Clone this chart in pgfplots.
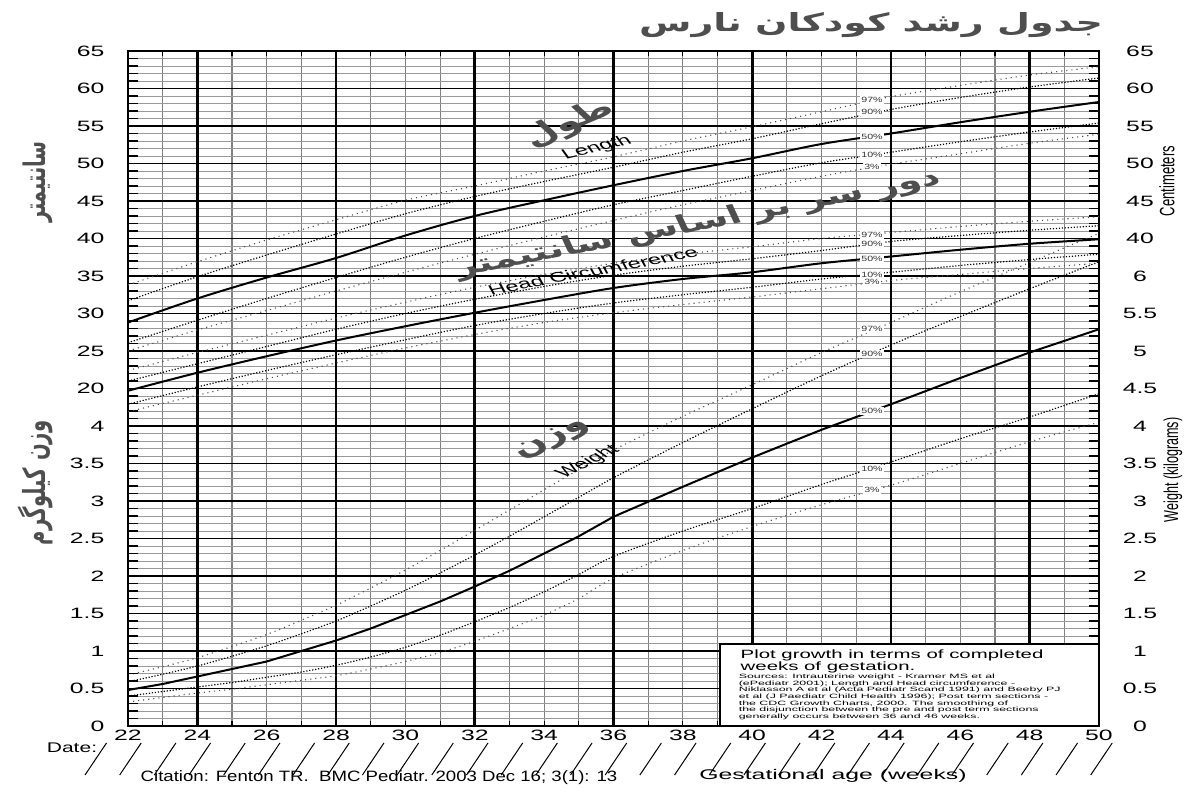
\documentclass[border=0pt]{standalone}
\usepackage{fontspec}
\setmainfont{Liberation Sans}
\newfontfamily\fa[Script=Arabic]{DejaVu Sans}
\TeXXeTstate=1
\usepackage{pgfplots}
\pgfplotsset{compat=1.18}
\usepackage{pgfplotstable}
\definecolor{pgray}{RGB}{78,78,78}

\pgfplotstableread{
w L3 L10 L50 L90 L97
22 25.0 26.1 28.8 31.7 33.8
24 27.8 29.1 32.0 34.9 36.9
26 30.4 32.0 34.8 37.8 39.8
28 33.0 34.8 37.4 40.6 42.5
30 35.5 37.5 40.4 43.3 45.1
32 37.9 40.0 43.0 45.6 47.0
34 40.2 42.3 45.1 47.6 49.0
36 42.4 44.5 47.1 49.5 50.9
38 44.5 46.4 49.0 51.5 53.0
40 46.4 48.3 50.7 53.3 54.9
42 48.3 50.1 52.6 55.3 56.9
44 49.9 51.5 54.0 57.2 58.9
46 51.3 52.9 55.5 58.8 60.4
48 52.7 54.2 56.9 60.2 61.8
50 53.9 55.4 58.2 61.4 62.9
}\lentab

\pgfplotstableread{
w H3 H10 H50 H90 H97
22 16.9 17.9 19.7 21.0 22.4
24 19.1 20.2 22.1 23.3 24.8
26 21.3 22.4 24.3 25.6 27.1
28 23.4 24.5 26.4 27.9 29.4
30 25.4 26.5 28.3 30.0 31.5
32 27.2 28.4 30.1 31.9 33.5
34 28.8 30.0 31.8 33.6 35.2
36 30.1 31.4 33.4 35.1 36.7
38 31.2 32.5 34.6 36.3 37.9
40 32.2 33.5 35.5 37.3 38.9
42 33.3 34.6 36.7 38.4 40.0
44 34.4 35.5 37.6 39.6 40.8
46 35.2 36.4 38.5 40.4 41.6
48 36.0 37.2 39.3 41.1 42.3
50 36.7 37.9 39.9 41.7 42.9
}\hctab

\pgfplotstableread{
w W3 W10 W50 W90 W97
22 0.32 0.40 0.48 0.59 0.68
23 0.38 0.46 0.56 0.69 0.79
24 0.44 0.52 0.66 0.80 0.91
25 0.49 0.58 0.76 0.93 1.06
26 0.55 0.65 0.86 1.07 1.22
27 0.61 0.72 1.00 1.23 1.41
28 0.67 0.81 1.14 1.40 1.61
29 0.76 0.92 1.30 1.60 1.84
30 0.86 1.05 1.48 1.81 2.08
31 0.98 1.21 1.66 2.04 2.34
32 1.13 1.39 1.86 2.28 2.61
33 1.30 1.58 2.07 2.53 2.88
34 1.48 1.79 2.30 2.79 3.15
35 1.70 2.02 2.53 3.05 3.42
36 1.97 2.26 2.79 3.31 3.68
38 2.34 2.60 3.19 3.78 4.13
40 2.66 2.90 3.58 4.23 4.55
42 2.95 3.22 3.95 4.67 4.98
44 3.21 3.52 4.29 5.08 5.38
46 3.50 3.83 4.64 5.46 5.79
48 3.79 4.12 4.98 5.83 6.18
50 4.05 4.43 5.29 6.19 6.57
}\wtab

\pgfplotsset{
  base/.style={
    at={(0,0)}, anchor=south west, scale only axis,
    width=485.5pt, height=337.5pt,
    xmin=22, xmax=50,
  },
  pthin/.style={black!70, line width=0.55pt, dash pattern=on 0.55pt off 2pt, smooth},
  pdense/.style={black, line width=0.6pt, dash pattern=on 0.6pt off 0.9pt, smooth},
  pmid/.style={black, line width=1pt},
}

\begin{document}
\begin{tikzpicture}
\path[use as bounding box] (-64pt,-37pt) rectangle (536pt,363pt);

% ---------- axis A: grid, x ticks, left labels, weight curves ----------
\begin{axis}[base,
  ymin=0, ymax=9,
  xtick={22,24,...,50},
  xticklabels={22,24,26,28,30,32,34,36,38,40,42,44,46,48,50},
  minor x tick num=1,
  ytick={0,0.5,1,1.5,2,2.5,3,3.5,4,4.5,5,5.5,6,6.5,7,7.5,8,8.5,9},
  yticklabels={0,0.5,1,1.5,2,2.5,3,3.5,4,20,25,30,35,40,45,50,55,60,65},
  minor y tick num=4,
  grid=both,
  major x grid style={black!50, line width=0.6pt},
  minor x grid style={black!50, line width=0.6pt},
  major y grid style={black, line width=0.7pt},
  minor y grid style={black!40, line width=0.45pt},
  extra x ticks={24,28,32,36,40,44,48},
  extra x tick labels={},
  extra x tick style={grid=major, major x grid style={black, line width=1.3pt}, major grid style={black, line width=1.3pt}},
  axis line style={black, line width=1pt},
  tick style={black, line width=0.6pt},
  major tick length=2.5pt, minor tick length=2.5pt,
  xticklabel style={font=\fontsize{7.5}{9}\selectfont, anchor=center, inner sep=0pt, yshift=-4.6pt, xscale=1.65},
  yticklabel style={font=\fontsize{7.5}{9}\selectfont, anchor=east, inner sep=0pt, xshift=-11.5pt, xscale=1.65},
]
\addplot[pthin] table[x=w, y=W97] {\wtab};
\addplot[pdense] table[x=w, y=W90] {\wtab};
\addplot[pmid] table[x=w, y=W50] {\wtab};
\addplot[pdense] table[x=w, y=W10] {\wtab};
\addplot[pthin] table[x=w, y=W3] {\wtab};
\end{axis}

% ---------- axis B: y ticks and right labels ----------
\begin{axis}[base,
  ymin=0, ymax=9,
  hide x axis,
  ytick={0,0.5,1,1.5,2,2.5,3,3.5,4,4.5,5,5.5,6,6.5,7,7.5,8,8.5,9},
  yticklabels={0,0.5,1,1.5,2,2.5,3,3.5,4,4.5,5,5.5,6,40,45,50,55,60,65},
  minor y tick num=4,
  yticklabel pos=right,
  ytick pos=both,
  axis line style={black, line width=1pt},
  tick style={black, line width=0.6pt},
  major tick length=5pt, minor tick length=5pt,
  yticklabel style={font=\fontsize{7.5}{9}\selectfont, anchor=center, inner sep=0pt, xshift=20.5pt, xscale=1.65},
]
\end{axis}

% ---------- axis C: length and head circumference (cm) ----------
\begin{axis}[base,
  ymin=-25, ymax=65,
  hide axis,
]
\addplot[pthin] table[x=w, y=L97] {\lentab};
\addplot[pdense] table[x=w, y=L90] {\lentab};
\addplot[pmid, smooth] table[x=w, y=L50] {\lentab};
\addplot[pdense] table[x=w, y=L10] {\lentab};
\addplot[pthin] table[x=w, y=L3] {\lentab};
\addplot[pthin] table[x=w, y=H97] {\hctab};
\addplot[pdense] table[x=w, y=H90] {\hctab};
\addplot[pmid, smooth] table[x=w, y=H50] {\hctab};
\addplot[pdense] table[x=w, y=H10] {\hctab};
\addplot[pthin] table[x=w, y=H3] {\hctab};
\end{axis}

% ---------- texts and decorations (pixel coordinates) ----------
\begin{scope}[shift={(-64pt,363pt)}, x=0.5pt, y=-0.5pt]
  % percentile labels
  \tikzset{plab/.style={fill=white, inner sep=0.6pt, font=\fontsize{3.8}{4.2}\selectfont, xscale=1.4, text=black!80}}
  \foreach \t/\yy in {97/100, 90/112, 50/137, 10/155, 3/167,
                      97/235, 90/244, 50/259, 10/275, 3/282,
                      97/329, 90/354, 50/411, 10/469, 3/490}
    \node[plab] at (872,\yy) {\t\%};

  % title
  \node[font=\fa\bfseries\fontsize{12.5}{14}\selectfont, text=pgray, xscale=1.52] at (871,25) {\beginR جدول رشد کودکان نارس\endR};

  % left persian axis labels
  \node[font=\fa\bfseries\fontsize{9.6}{11}\selectfont, text=pgray, xscale=1.55, rotate=90] at (38,182) {\beginR سانتیمتر\endR};
  \node[font=\fa\bfseries\fontsize{9.8}{11}\selectfont, text=pgray, xscale=1.55, rotate=90] at (35,483) {\beginR وزن کیلوگرم\endR};

  % right axis labels
  \node[font=\fontsize{6.5}{8}\selectfont, xscale=1.6, rotate=90] at (1167,181) {Centimeters};
  \node[font=\fontsize{6.3}{8}\selectfont, xscale=1.6, rotate=90] at (1173,470) {Weight (kilograms)};

  % in-plot labels
  \node[font=\fa\bfseries\fontsize{13}{15}\selectfont, text=pgray, xscale=1.6, rotate=34] at (569,124) {\beginR طول\endR};
  \node[font=\fontsize{7}{8}\selectfont, xscale=1.7, rotate=23] at (597,148) {Length};
  \node[font=\fa\bfseries\fontsize{12.5}{15}\selectfont, text=pgray, xscale=1.55, rotate=16.5] at (698,224) {\beginR دور سر بر اساس سانتیمتر\endR};
  \node[font=\fontsize{7}{8}\selectfont, xscale=1.7, rotate=17.5] at (593,271) {Head Circumference};
  \node[font=\fa\bfseries\fontsize{13}{15}\selectfont, text=pgray, xscale=1.6, rotate=37] at (553,440) {\beginR وزن\endR};
  \node[font=\fontsize{7}{8}\selectfont, xscale=1.7, rotate=40] at (588,462) {Weight};

  % note box
  \draw[fill=white, line width=0.6pt] (720,644) rectangle (1099,726);
  \node[anchor=north west, inner sep=0pt, align=left, font=\fontsize{6}{6.25}\selectfont, xscale=1.7] at (740,649)
    {Plot growth in terms of completed\\weeks of gestation.};
  \node[anchor=north west, inner sep=0pt, align=left, font=\fontsize{3.1}{3.34}\selectfont, xscale=2.0] at (738,673.5)
    {Sources: Intrauterine weight - Kramer MS et al\\
     (ePediatr 2001); Length and Head circumference -\\
     Niklasson A et al (Acta Pediatr Scand 1991) and Beeby PJ\\
     et al (J Paediatr Child Health 1996); Post term sections -\\
     the CDC Growth Charts, 2000.  The smoothing of\\
     the disjunction between the pre and post term sections\\
     generally occurs between 36 and 46 weeks.};

  % date slashes
  \foreach \w in {21,...,50}
    \draw[line width=0.5pt] ({128+(\w+0.38-22)*34.68},743) -- ({128+(\w-0.24-22)*34.68},775);

  % bottom texts
  \node[font=\fontsize{7}{8}\selectfont, xscale=1.5] at (72,748) {Date:};
  \node[font=\fontsize{7.5}{9}\selectfont, xscale=1.24] at (379,778) {Citation: Fenton TR.\ \ BMC Pediatr. 2003 Dec 16; 3(1): 13};
  \node[font=\fontsize{7}{8}\selectfont, xscale=1.77] at (833,776) {Gestational age (weeks)};
\end{scope}
\end{tikzpicture}
\end{document}
